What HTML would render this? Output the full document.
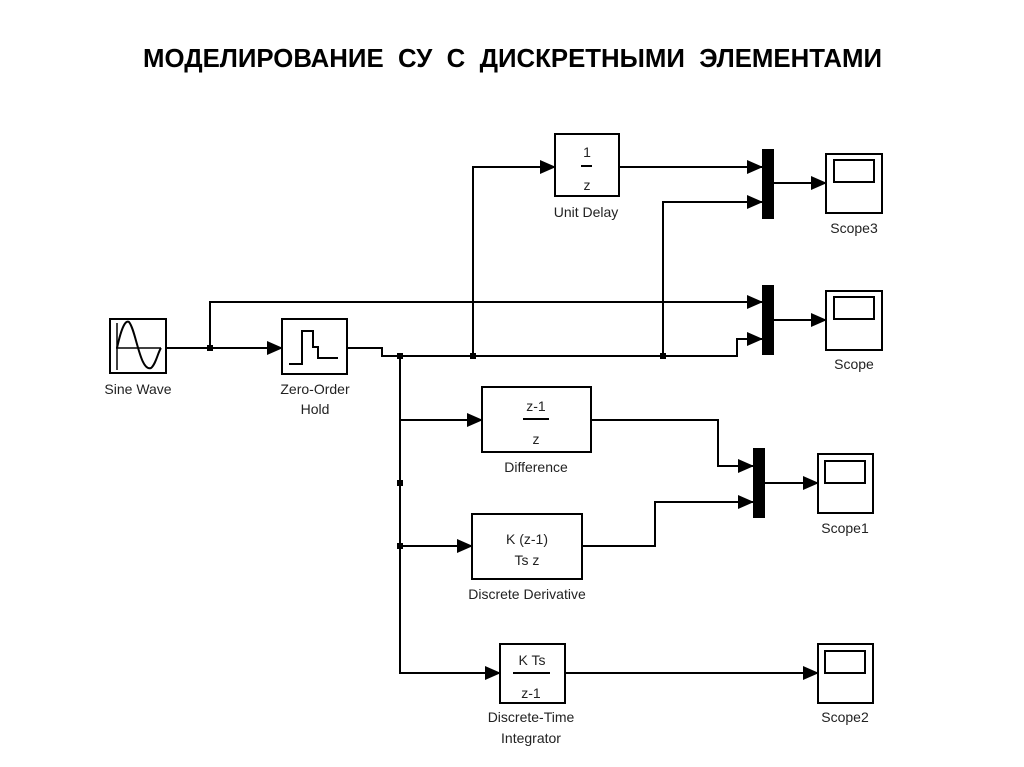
<!DOCTYPE html>
<html><head><meta charset="utf-8"><style>
html,body{margin:0;padding:0;background:#fff;}
svg{display:block;}
text{font-family:"Liberation Sans",sans-serif;fill:#222;}
</style></head><body>
<svg width="1024" height="767" viewBox="0 0 1024 767" xmlns="http://www.w3.org/2000/svg">
<defs>
<marker id="a" markerWidth="16" markerHeight="16" refX="15" refY="8" orient="auto" markerUnits="userSpaceOnUse">
<path d="M0,1 L16,8 L0,15 Z" fill="#000"/></marker>
</defs>
<text x="143" y="67" font-size="26" font-weight="bold" textLength="739" lengthAdjust="spacingAndGlyphs" style="fill:#000">МОДЕЛИРОВАНИЕ&#160; СУ&#160; С&#160; ДИСКРЕТНЫМИ&#160; ЭЛЕМЕНТАМИ</text>

<g fill="none" stroke="#000" stroke-width="2">
<path d="M166,348 H282" marker-end="url(#a)"/>
<path d="M210,348 V302 H762" marker-end="url(#a)"/>
<path d="M347,348 H382 V356 H737 V339 H762" marker-end="url(#a)"/>
<path d="M473,356 V167 H555" marker-end="url(#a)"/>
<path d="M619,167 H762" marker-end="url(#a)"/>
<path d="M663,356 V202 H762" marker-end="url(#a)"/>
<path d="M774,183 H826" marker-end="url(#a)"/>
<path d="M774,320 H826" marker-end="url(#a)"/>
<path d="M400,356 V673 H500" marker-end="url(#a)"/>
<path d="M400,420 H482" marker-end="url(#a)"/>
<path d="M400,546 H472" marker-end="url(#a)"/>
<path d="M591,420 H718 V466 H753" marker-end="url(#a)"/>
<path d="M582,546 H655 V502 H753" marker-end="url(#a)"/>
<path d="M765,483 H818" marker-end="url(#a)"/>
<path d="M565,673 H818" marker-end="url(#a)"/>

<rect x="110" y="319" width="56" height="54"/>
<rect x="282" y="319" width="65" height="55"/>
<rect x="555" y="134" width="64" height="62"/>
<rect x="482" y="387" width="109" height="65"/>
<rect x="472" y="514" width="110" height="65"/>
<rect x="500" y="644" width="65" height="59"/>
<rect x="826" y="154" width="56" height="59"/>
<rect x="826" y="291" width="56" height="59"/>
<rect x="818" y="454" width="55" height="59"/>
<rect x="818" y="644" width="55" height="59"/>
<rect x="834" y="160" width="40" height="22"/>
<rect x="834" y="297" width="40" height="22"/>
<rect x="825" y="461" width="40" height="22"/>
<rect x="825" y="651" width="40" height="22"/>
<path d="M116,348 H161 M117,323 V370" stroke-width="1.5"/>
<path d="M117,348 C122,325 126,320 129,322 C136,330 140,372 151,368 C156,364 158,352 161,348" stroke-width="2"/>
<path d="M289,364 H302 V331 H313 V347 H318 V358 H338" stroke-width="2"/>
</g>
<rect x="762" y="149" width="12" height="70" fill="#000"/>
<rect x="762" y="285" width="12" height="70" fill="#000"/>
<rect x="753" y="448" width="12" height="70" fill="#000"/>
<g fill="#000">
<rect x="207" y="345" width="6" height="6"/>
<rect x="397" y="353" width="6" height="6"/>
<rect x="470" y="353" width="6" height="6"/>
<rect x="660" y="353" width="6" height="6"/>
<rect x="397" y="480" width="6" height="6"/>
<rect x="397" y="543" width="6" height="6"/>
</g>
<g stroke="#000" stroke-width="2">
<line x1="581" y1="166" x2="592" y2="166"/>
<line x1="523" y1="419" x2="549" y2="419"/>
<line x1="513" y1="673" x2="550" y2="673"/>
</g>
<g font-size="14" text-anchor="middle">
<text x="587" y="157">1</text>
<text x="587" y="190">z</text>
<text x="536" y="411">z-1</text>
<text x="536" y="444">z</text>
<text x="527" y="544">K (z-1)</text>
<text x="527" y="565">Ts z</text>
<text x="532" y="665">K Ts</text>
<text x="531" y="698">z-1</text>
<text x="138" y="394">Sine Wave</text>
<text x="315" y="394">Zero-Order</text>
<text x="315" y="414">Hold</text>
<text x="586" y="217">Unit Delay</text>
<text x="536" y="472">Difference</text>
<text x="527" y="599">Discrete Derivative</text>
<text x="531" y="722">Discrete-Time</text>
<text x="531" y="743">Integrator</text>
<text x="854" y="233">Scope3</text>
<text x="854" y="369">Scope</text>
<text x="845" y="533">Scope1</text>
<text x="845" y="722">Scope2</text>
</g>
</svg>
</body></html>
